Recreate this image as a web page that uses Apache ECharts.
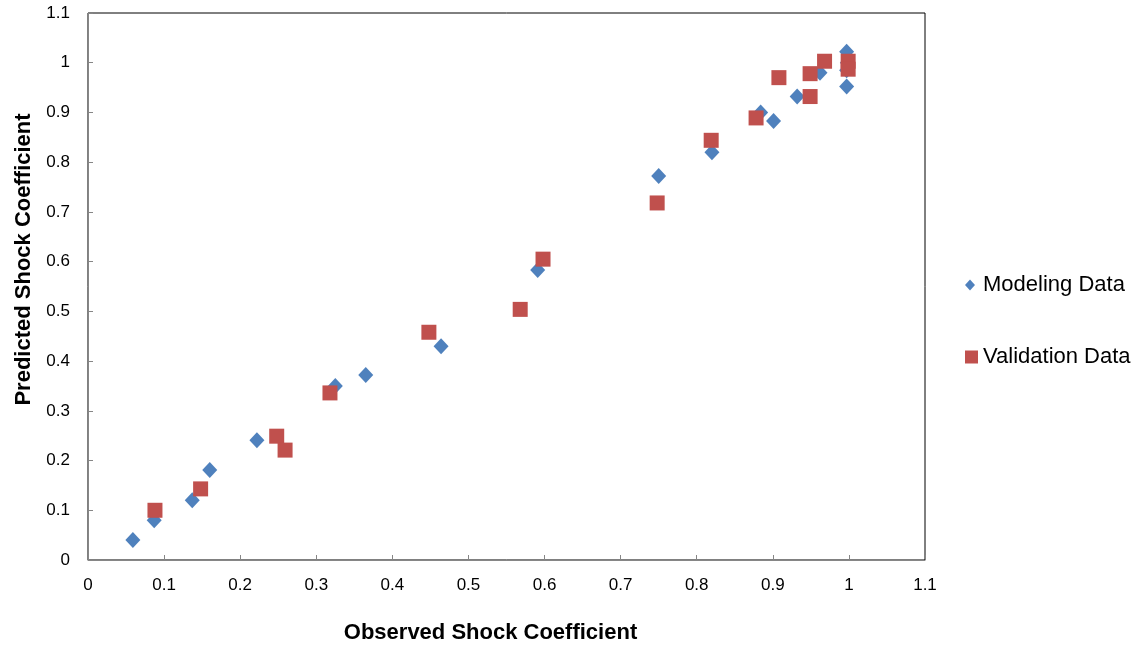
<!DOCTYPE html>
<html>
<head>
<meta charset="utf-8">
<script src="https://cdn.jsdelivr.net/npm/echarts@6/dist/echarts.min.js"></script>
<style>html,body{margin:0;padding:0;background:#fff}#c{width:1142px;height:650px}</style>
</head>
<body>
<div id="c"></div>
<script>
const modelingX = [0.059, 0.087, 0.137, 0.160, 0.222, 0.325, 0.365, 0.464, 0.591, 0.750, 0.820, 0.884, 0.901, 0.932, 0.962, 0.997, 0.997, 0.998, 0.997];
const modelingY = [0.040, 0.080, 0.120, 0.181, 0.241, 0.350, 0.372, 0.430, 0.583, 0.772, 0.820, 0.900, 0.883, 0.932, 0.980, 1.022, 0.952, 1.000, 0.985];
const validationX = [0.088, 0.148, 0.248, 0.259, 0.318, 0.448, 0.568, 0.598, 0.748, 0.819, 0.878, 0.908, 0.949, 0.949, 0.968, 0.999, 0.999];
const validationY = [0.100, 0.143, 0.249, 0.221, 0.336, 0.458, 0.504, 0.605, 0.718, 0.844, 0.889, 0.970, 0.978, 0.932, 1.003, 1.003, 0.987];
const seriesNames = ['Modeling Data', 'Validation Data'];
const xTitle = 'Observed Shock Coefficient';
const yTitle = 'Predicted Shock Coefficient';

const pairs = (xs, ys) => xs.map((x, i) => [x, ys[i]]);
const chart = echarts.init(document.getElementById('c'));
const axisLine = { show: true, onZero: false, lineStyle: { color: '#868686', width: 1 } };
const axisTick = { show: true, inside: true, length: 5, lineStyle: { color: '#868686' } };
const fmt = v => String(Math.round(v * 10) / 10);
const titleFont = 'Liberation Sans, Arial';
chart.setOption({
  animation: false,
  backgroundColor: '#fff',
  grid: { left: 88, top: 13, right: 217, bottom: 90, show: true, borderColor: '#000', borderWidth: 1 },
  xAxis: {
    type: 'value', min: 0, max: 1.1, interval: 0.1,
    axisLine, axisTick, splitLine: { show: false },
    axisLabel: { margin: 17, color: '#000', fontSize: 17, fontFamily: 'Liberation Sans, Arial', formatter: fmt },
    name: xTitle, nameLocation: 'middle', nameGap: 62,
    nameTextStyle: { fontSize: 22, fontWeight: 'bold', color: '#000', fontFamily: titleFont, padding: [0, 32, 0, 0] }
  },
  yAxis: {
    type: 'value', min: 0, max: 1.1, interval: 0.1,
    axisLine, axisTick, splitLine: { show: false },
    axisLabel: { margin: 18, color: '#000', fontSize: 17, fontFamily: 'Liberation Sans, Arial', formatter: fmt },
    name: yTitle, nameLocation: 'middle', nameGap: 53,
    nameTextStyle: { fontSize: 22, fontWeight: 'bold', color: '#000', fontFamily: titleFont, padding: [0, 0, 0, 54] }
  },
  legend: [
    { orient: 'vertical', left: 960, top: 269, itemWidth: 10, itemHeight: 11,
      textStyle: { fontSize: 22, color: '#000', fontFamily: 'Liberation Sans, Arial', padding: [0, 0, 0, 3] },
      data: [{ name: seriesNames[0], icon: 'diamond' }] },
    { orient: 'vertical', left: 960, top: 341, itemWidth: 13, itemHeight: 13,
      textStyle: { fontSize: 22, color: '#000', fontFamily: 'Liberation Sans, Arial' },
      data: [{ name: seriesNames[1], icon: 'rect' }] }
  ],
  series: [
    { name: seriesNames[0], type: 'scatter', symbol: 'diamond', symbolSize: [15, 16],
      itemStyle: { color: '#4F81BD', opacity: 1 }, data: pairs(modelingX, modelingY) },
    { name: seriesNames[1], type: 'scatter', symbol: 'rect', symbolSize: 15,
      itemStyle: { color: '#C0504D', opacity: 1 }, data: pairs(validationX, validationY) }
  ]
});
</script>
</body>
</html>
